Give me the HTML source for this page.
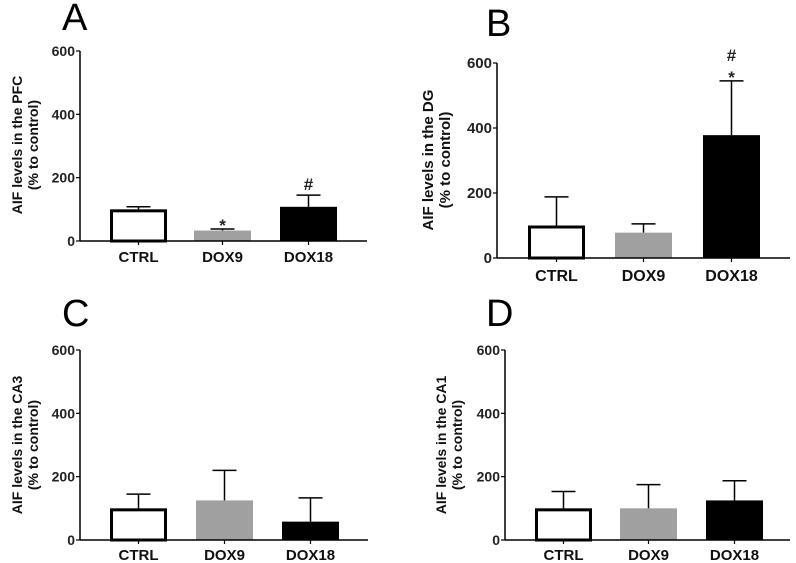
<!DOCTYPE html>
<html><head><meta charset="utf-8"><style>
body{margin:0;background:#fff;width:796px;height:563px;overflow:hidden}
svg{display:block}
text{font-family:"Liberation Sans",Arial,sans-serif}
.b{font-weight:700}
</style></head><body>
<svg id="fig" width="796" height="563"></svg>
<script>
const categories = ["CTRL","DOX9","DOX18"];
const tickLabels = [0,200,400,600];
const meansA = [100,33,108];  const errA = [8,5,37];
const meansB = [100,78,378];  const errB = [88,27,167];
const meansC = [100,125,58];  const errC = [45,95,75];
const meansD = [100,100,125]; const errD = [53,75,62];
const marksA = ["","*","#"];
const marksB = ["","","#\n*"];

const NS="http://www.w3.org/2000/svg";
const svg=document.getElementById('fig');
function mk(tag,attrs,parent){const e=document.createElementNS(NS,tag);for(const k in attrs)e.setAttribute(k,attrs[k]);(parent||svg).appendChild(e);return e;}

const panels=[
 {id:"a",letter:"A",lx:62,ly:30,ax:80,y0:241,y600:51,xEnd:367,bx:[110,194,280],bw:57,means:meansA,errs:errA,marks:marksA,region:"PFC",tx:22,ty:145,laby:262,fs:14,ts:14},
 {id:"b",letter:"B",lx:486,ly:36,ax:497,y0:258,y600:63,xEnd:790,bx:[528,615,703],bw:57,means:meansB,errs:errB,marks:marksB,region:"DG",tx:433,ty:160,laby:281,fs:15,ts:15},
 {id:"c",letter:"C",lx:62,ly:326,ax:80,y0:540,y600:350,xEnd:368,bx:[110,196,282],bw:57,means:meansC,errs:errC,marks:null,region:"CA3",tx:22,ty:445,laby:560,fs:14,ts:14},
 {id:"d",letter:"D",lx:486,ly:326,ax:505,y0:540,y600:350,xEnd:790,bx:[535,620,706],bw:57,means:meansD,errs:errD,marks:null,region:"CA1",tx:446,ty:445,laby:560,fs:14,ts:14}
];
const fills=["#fff","#a0a0a0","#000"];
panels.forEach(p=>{
  const g=mk('g',{});
  
  
  const y=v=>p.y0-(v/600)*(p.y0-p.y600);
  const L=mk('text',{x:p.lx,y:p.ly,'font-size':38,fill:'#000'},g);L.textContent=p.letter;
  
  
  categories.forEach((c,i)=>{
    const m=p.means[i], e=p.errs[i];
    const cx=p.bx[i]+p.bw/2;
    const el=mk('line',{x1:cx,x2:cx,y1:y(m),y2:y(m+e),stroke:'#000','stroke-width':1.5},g);
    
    
    const cap=mk('line',{x1:cx-12,x2:cx+12,y1:y(m+e),y2:y(m+e),stroke:'#000','stroke-width':1.5},g);
    
    
    const sw=i===0?3:0;
    const r=mk('rect',{x:p.bx[i]+sw/2,y:y(m)+sw/2,width:p.bw-sw,height:Math.max(0,y(0)-y(m)-sw/2),fill:fills[i],stroke:i===0?'#000':'none','stroke-width':sw},g);
    
    
    const t=mk('text',{x:cx,y:p.laby,'font-size':p.fs+1,class:'b','text-anchor':'middle',fill:'#111'},g);t.textContent=c;
    
    
    mk('line',{x1:cx,x2:cx,y1:y(0),y2:y(0)+4,stroke:'#000','stroke-width':1.2},g);
    if(p.marks&&p.marks[i]){
      const lines=p.marks[i].split("\n");
      lines.forEach((s,k)=>{
        const mt=mk('text',{x:cx,y:y(m+e)-5-(lines.length-1-k)*15+(s==="*"?7:0),'font-size':17,class:'b','text-anchor':'middle',fill:'#222'},g);mt.textContent=s;
        
        
      });
    }
  });
  const ya=mk('line',{x1:p.ax,x2:p.ax,y1:p.y600,y2:p.y0,stroke:'#000','stroke-width':1.5},g);
  
  const xa=mk('line',{x1:p.ax,x2:p.xEnd,y1:p.y0,y2:p.y0,stroke:'#000','stroke-width':1.5},g);
  
  tickLabels.forEach(v=>{
    mk('line',{x1:p.ax-4,x2:p.ax,y1:y(v),y2:y(v),stroke:'#000','stroke-width':1.2},g);
    const t=mk('text',{x:p.ax-5,y:y(v)+5,'font-size':p.fs,class:'b','text-anchor':'end',fill:'#222'},g);t.textContent=v;
    
    
  });
  const tt=mk('text',{transform:`translate(${p.tx},${p.ty}) rotate(-90)`,'font-size':p.ts,class:'b','text-anchor':'middle',fill:'#111'},g);
  
  
  const s1=mk('tspan',{x:0,dy:0},tt);s1.textContent='AIF levels in the '+p.region;
  const s2=mk('tspan',{x:0,dy:p.ts+2},tt);s2.textContent='(% to control)';
});
</script>
</body></html>
